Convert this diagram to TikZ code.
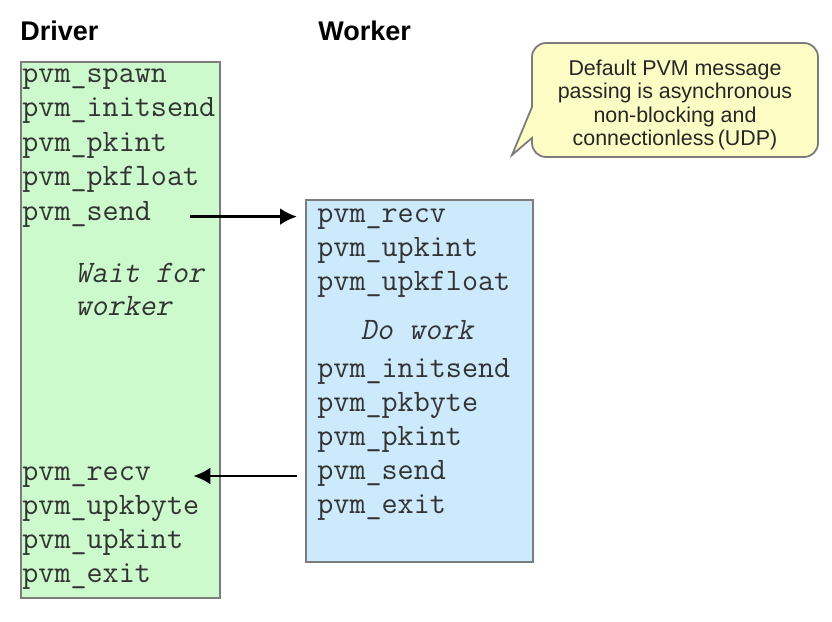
\documentclass[tikz,border=0pt]{standalone}
\usepackage{fontspec}
\setmainfont{Liberation Sans}
\newfontfamily\slantmono{Latin Modern Mono}[FakeSlant=0.2]
\usetikzlibrary{arrows.meta}

\definecolor{drvgreen}{HTML}{CCFACC}
\definecolor{wrkblue}{HTML}{CCEAFC}
\definecolor{notebg}{HTML}{FCFCC4}
\definecolor{edgegray}{HTML}{7C7C7C}
\definecolor{codegray}{HTML}{333333}

\tikzset{
  lane/.style={draw=edgegray, line width=0.9pt, anchor=north west, inner sep=0pt},
  code/.style={anchor=base west, inner sep=0pt, text=codegray,
    font=\fontsize{15.6}{18}\selectfont\ttfamily},
  remark/.style={code, font=\fontsize{15.6}{18}\selectfont\slantmono},
  head/.style={anchor=base west, inner sep=0pt, font=\fontsize{13.5}{15}\selectfont\bfseries},
  msg/.style={-{Latex[length=8.5pt,width=8.5pt]}, line width=1.4pt},
}

\begin{document}
\begin{tikzpicture}[x=0.5pt,y=-0.5pt]
  \useasboundingbox (0,0) rectangle (832,622);

  \node[head] (hdrv) at (20,40) {Driver};
  \node[head] (hwrk) at (318,40) {Worker};

  \node[lane, fill=drvgreen, minimum width=99.5pt, minimum height=268pt] (driver) at (20,61) {};
  \node[lane, fill=wrkblue, minimum width=113.5pt, minimum height=181pt] (worker) at (305,199) {};

  % driver side
  \foreach \t [count=\i] in {pvm\_spawn, pvm\_initsend, pvm\_pkint, pvm\_pkfloat, pvm\_send}
    \node[code] (d\i) at (22,82+34.5*\i-34.5) {\t};
  \node[remark] (dwait) at (75,282) {Wait for};
  \node[remark] (dwait2) at (75,315) {worker};
  \foreach \t [count=\i from 6] in {pvm\_recv, pvm\_upkbyte, pvm\_upkint, pvm\_exit}
    \node[code] (d\i) at (22,480+34.3*\i-205.8) {\t};

  % worker side
  \foreach \t [count=\i] in {pvm\_recv, pvm\_upkint, pvm\_upkfloat}
    \node[code] (w\i) at (317,222+34*\i-34) {\t};
  \node[remark, anchor=base] (wwork) at (417,339) {Do work};
  \foreach \t [count=\i from 4] in {pvm\_initsend, pvm\_pkbyte, pvm\_pkint, pvm\_send, pvm\_exit}
    \node[code] (w\i) at (317,377+34*\i-136) {\t};

  \draw[msg] ([xshift=19.5pt,yshift=1.7pt]d5.base east) -- ([xshift=-4pt,yshift=1.7pt]worker.west |- d5.base);
  \draw[msg] ([xshift=-4pt,yshift=1.5pt]worker.west |- w7.base) -- ([xshift=21pt,yshift=1.5pt]d6.base east |- w7.base);

  % callout
  \draw[draw=edgegray, fill=notebg, line width=0.9pt]
    (532,107) [rounded corners=7pt] -- (532,43) -- (818,43) -- (818,157) -- (532,157)
    [sharp corners] -- (532,138) -- (512,155) -- cycle;
  \node[align=center, inner sep=0pt, font=\fontsize{10.7}{11.6}\selectfont, text=black!85] (note) at (675,105)
    {Default PVM message\\passing is asynchronous\\non-blocking and\\connectionless\,(UDP)};
\end{tikzpicture}
\end{document}
